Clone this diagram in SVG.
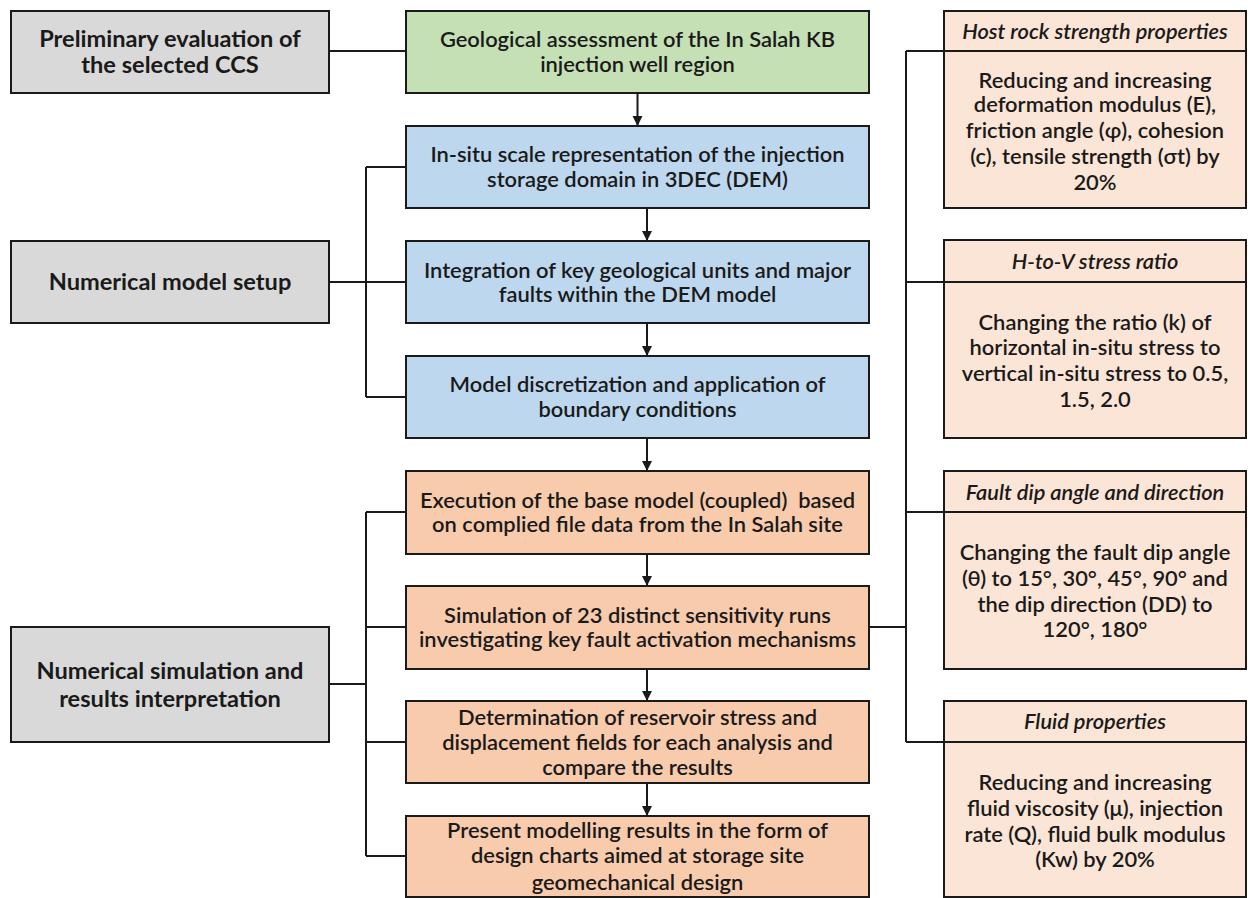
<svg xmlns="http://www.w3.org/2000/svg" width="1248" height="898" viewBox="0 0 1248 898">
<style>
rect{stroke:#1a1a1a;stroke-width:2}
.grey{fill:#d9d9d9}
.green{fill:#c5e0b4}
.blue{fill:#bdd7ee}
.orange{fill:#f8cbad}
.light{fill:#fbe5d6}
text{font-family:Lato,"Open Sans","Liberation Sans",sans-serif;fill:#1a1a1a;text-anchor:middle}
.l{font-size:23.6px;font-weight:700}
.m{font-size:21.9px;font-weight:600}
.r{font-size:21.9px;font-weight:600}
.h{font-size:21.8px;font-weight:600;font-style:italic}
.c{fill:none;stroke:#1a1a1a;stroke-width:2}
</style>
<defs>
<marker id="ah" markerWidth="10" markerHeight="11" refX="10" refY="5" orient="auto" markerUnits="userSpaceOnUse">
<path d="M0,0 L10,5 L0,10 z" fill="#1a1a1a"/>
</marker>
</defs>
<rect width="1248" height="898" fill="#fff" style="stroke:none"/>
<g id="connectors">
<path class="c" d="M329,51 H406"/>
<path class="c" d="M329,282 H406 M366,167 V397 M366,167 H406 M366,397 H406"/>
<path class="c" d="M329,684 H366 M366,512 V856 M366,512 H406 M366,627 H406 M366,742 H406 M366,856 H406"/>
<path class="c" d="M869,627 H906 M906,51 V742 M906,51 H944 M906,282 H944 M906,512 H944 M906,742 H944"/>
<path class="c" marker-end="url(#ah)" d="M637.5,93 V126"/>
<path class="c" marker-end="url(#ah)" d="M647,208 V241"/>
<path class="c" marker-end="url(#ah)" d="M647,323 V356"/>
<path class="c" marker-end="url(#ah)" d="M647,438 V471"/>
<path class="c" marker-end="url(#ah)" d="M647,554 V586"/>
<path class="c" marker-end="url(#ah)" d="M647,669 V701"/>
<path class="c" marker-end="url(#ah)" d="M647,783 V816"/>
</g>
<g id="prelim">
<rect class="grey" x="11" y="11" width="318" height="82"/>
<text class="l" x="170" y="47">Preliminary evaluation of</text>
<text class="l" x="170" y="73">the selected CCS</text>
</g>
<g id="setup">
<rect class="grey" x="11" y="241" width="318" height="82"/>
<text class="l" x="170" y="290">Numerical model setup</text>
</g>
<g id="simulation">
<rect class="grey" x="11" y="627" width="318" height="115"/>
<text class="l" x="170" y="679">Numerical simulation and</text>
<text class="l" x="170" y="707">results interpretation</text>
</g>
<g id="geo">
<rect class="green" x="406" y="11" width="463" height="82"/>
<text class="m" x="637.5" y="47">Geological assessment of the In Salah KB</text>
<text class="m" x="637.5" y="72">injection well region</text>
</g>
<g id="insitu">
<rect class="blue" x="406" y="126" width="463" height="82"/>
<text class="m" x="637.5" y="162">In-situ scale representation of the injection</text>
<text class="m" x="637.5" y="187">storage domain in 3DEC (DEM)</text>
</g>
<g id="integration">
<rect class="blue" x="406" y="241" width="463" height="82"/>
<text class="m" x="637.5" y="277.5">Integration of key geological units and major</text>
<text class="m" x="637.5" y="302">faults within the DEM model</text>
</g>
<g id="discretization">
<rect class="blue" x="406" y="356" width="463" height="82"/>
<text class="m" x="637.5" y="392">Model discretization and application of</text>
<text class="m" x="637.5" y="416.5">boundary conditions</text>
</g>
<g id="execution">
<rect class="orange" x="406" y="471" width="463" height="83"/>
<text class="m" x="637.5" y="507.5" xml:space="preserve">Execution of the base model (coupled)  based</text>
<text class="m" x="637.5" y="531.5">on complied file data from the In Salah site</text>
</g>
<g id="sensitivity">
<rect class="orange" x="406" y="586" width="463" height="83"/>
<text class="m" x="637.5" y="622.5">Simulation of 23 distinct sensitivity runs</text>
<text class="m" x="637.5" y="646.5">investigating key fault activation mechanisms</text>
</g>
<g id="determination">
<rect class="orange" x="406" y="701" width="463" height="82"/>
<text class="m" x="637.5" y="725">Determination of reservoir stress and</text>
<text class="m" x="637.5" y="750">displacement fields for each analysis and</text>
<text class="m" x="637.5" y="775">compare the results</text>
</g>
<g id="present">
<rect class="orange" x="406" y="816" width="463" height="81"/>
<text class="m" x="637.5" y="838">Present modelling results in the form of</text>
<text class="m" x="637.5" y="863">design charts aimed at storage site</text>
<text class="m" x="637.5" y="890">geomechanical design</text>
</g>
<g id="hostrock">
<rect class="light" x="944" y="11" width="302" height="40"/>
<rect class="light" x="944" y="51" width="302" height="157"/>
<text class="h" x="1095" y="39">Host rock strength properties</text>
<text class="r" x="1095" y="88">Reducing and increasing</text>
<text class="r" x="1095" y="112">deformation modulus (E),</text>
<text class="r" x="1095" y="138">friction angle (φ), cohesion</text>
<text class="r" x="1095" y="164">(c), tensile strength (σt) by</text>
<text class="r" x="1095" y="190">20%</text>
</g>
<g id="stressratio">
<rect class="light" x="944" y="240" width="302" height="42"/>
<rect class="light" x="944" y="282" width="302" height="156"/>
<text class="h" x="1095" y="269">H-to-V stress ratio</text>
<text class="r" x="1095" y="330">Changing the ratio (k) of</text>
<text class="r" x="1095" y="355">horizontal in-situ stress to</text>
<text class="r" x="1095" y="381">vertical in-situ stress to 0.5,</text>
<text class="r" x="1095" y="407">1.5, 2.0</text>
</g>
<g id="faultdip">
<rect class="light" x="944" y="471" width="302" height="41"/>
<rect class="light" x="944" y="512" width="302" height="157"/>
<text class="h" x="1095" y="500">Fault dip angle and direction</text>
<text class="r" x="1095" y="560">Changing the fault dip angle</text>
<text class="r" x="1095" y="586">(θ) to 15°, 30°, 45°, 90° and</text>
<text class="r" x="1095" y="612">the dip direction (DD) to</text>
<text class="r" x="1095" y="637">120°, 180°</text>
</g>
<g id="fluid">
<rect class="light" x="944" y="701" width="302" height="41"/>
<rect class="light" x="944" y="742" width="302" height="155"/>
<text class="h" x="1095" y="729">Fluid properties</text>
<text class="r" x="1095" y="790">Reducing and increasing</text>
<text class="r" x="1095" y="816">fluid viscosity (μ), injection</text>
<text class="r" x="1095" y="842">rate (Q), fluid bulk modulus</text>
<text class="r" x="1095" y="867">(Kw) by 20%</text>
</g>
</svg>
